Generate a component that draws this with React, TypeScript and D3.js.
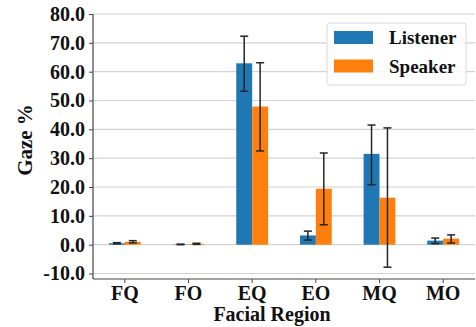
import { useEffect, useRef } from 'react';
import * as d3 from 'd3';

const regions = ['FQ', 'FO', 'EQ', 'EO', 'MQ', 'MO'];
const seriesNames = ['Listener', 'Speaker'];
const listenerVals = [0.5, 0.1, 62.9, 3.2, 31.5, 1.4];
const listenerLo = [0.3, 0.0, 53.2, 1.6, 20.8, 0.4];
const listenerHi = [0.7, 0.2, 72.3, 4.7, 41.5, 2.3];
const speakerVals = [1.0, 0.3, 47.9, 19.4, 16.3, 2.1];
const speakerLo = [0.6, 0.1, 32.5, 6.9, -7.8, 0.6];
const speakerHi = [1.4, 0.5, 63.1, 31.8, 40.5, 3.4];
const yTicks = [-10, 0, 10, 20, 30, 40, 50, 60, 70, 80];

const colors = ['#1f77b4', '#ff7f0e'];
const font = '"Liberation Serif", "Times New Roman", serif';

export default function App() {
    const ref = useRef<SVGSVGElement>(null);

    useEffect(() => {
        const svg = d3.select(ref.current);
        svg.selectAll('*').remove();

        const [ml, mt, mr, mb] = [93, 14, 1, 48];
        const width = 476;
        const height = 327;
        const graphWidth = width - ml - mr;
        const graphHeight = height - mt - mb;

        const g = svg.append('g').attr('transform', `translate(${ml}, ${mt})`);

        const xScale = d3.scaleBand().domain(regions).range([0, graphWidth]).paddingInner(0).paddingOuter(0);
        const yScale = d3.scaleLinear().domain([-11.9, 80]).range([graphHeight, 0]);
        const barW = xScale.bandwidth() * 0.25;

        // grid
        g.selectAll('line.grid')
            .data(yTicks)
            .join('line')
            .attr('x1', 0)
            .attr('x2', graphWidth)
            .attr('y1', (d) => yScale(d))
            .attr('y2', (d) => yScale(d))
            .attr('stroke', '#d2d2d2')
            .attr('stroke-width', 1.2);

        const series = [
            { vals: listenerVals, lo: listenerLo, hi: listenerHi },
            { vals: speakerVals, lo: speakerLo, hi: speakerHi }
        ];
        const cx = (si: number, i: number) =>
            (xScale(regions[i]) as number) + xScale.bandwidth() / 2 + (si === 0 ? -barW / 2 : barW / 2);

        series.forEach((s, si) => {
            g.selectAll(`rect.s${si}`)
                .data(s.vals)
                .join('rect')
                .attr('x', (_d, i) => cx(si, i) - barW / 2)
                .attr('width', barW)
                .attr('y', (d) => yScale(Math.max(0, d)))
                .attr('height', (d) => Math.abs(yScale(d) - yScale(0)))
                .attr('fill', colors[si]);
        });

        // error bars
        series.forEach((s, si) => {
            const eg = g.append('g').attr('stroke', '#262626').attr('stroke-width', 1.5);
            s.vals.forEach((_v, i) => {
                const x = cx(si, i);
                eg.append('line').attr('x1', x).attr('x2', x).attr('y1', yScale(s.lo[i])).attr('y2', yScale(s.hi[i]));
                [s.lo[i], s.hi[i]].forEach((e) => {
                    eg.append('line')
                        .attr('x1', x - 4)
                        .attr('x2', x + 4)
                        .attr('y1', yScale(e))
                        .attr('y2', yScale(e));
                });
            });
        });

        // axes
        const yAxis = d3
            .axisLeft(yScale)
            .tickValues(yTicks)
            .tickSize(4)
            .tickPadding(4)
            .tickFormat((d) => (d as number).toFixed(1));
        g.append('g')
            .call(yAxis)
            .call((a) => a.select('.domain').remove())
            .call((a) => a.selectAll('.tick line').attr('stroke', '#444'))
            .call((a) =>
                a
                    .selectAll('.tick text')
                    .attr('font-family', font)
                    .attr('font-weight', 'bold')
                    .attr('font-size', 20)
                    .attr('fill', '#111')
            );

        const xAxis = d3.axisBottom(xScale).tickSize(4).tickPadding(3);
        g.append('g')
            .attr('transform', `translate(0, ${graphHeight})`)
            .call(xAxis)
            .call((a) => a.select('.domain').remove())
            .call((a) => a.selectAll('.tick line').attr('stroke', '#444'))
            .call((a) =>
                a
                    .selectAll('.tick text')
                    .attr('font-family', font)
                    .attr('font-weight', 'bold')
                    .attr('font-size', 20)
                    .attr('fill', '#111')
            );

        // spines
        g.append('line').attr('x1', 0).attr('x2', 0).attr('y1', 0).attr('y2', graphHeight).attr('stroke', '#444').attr('stroke-width', 1.2);
        g.append('line').attr('x1', 0).attr('x2', graphWidth).attr('y1', graphHeight).attr('y2', graphHeight).attr('stroke', '#444').attr('stroke-width', 1.2);

        // axis titles
        svg.append('text')
            .attr('x', ml + graphWidth / 2 - 12)
            .attr('y', 321)
            .attr('text-anchor', 'middle')
            .attr('font-family', font)
            .attr('font-weight', 'bold')
            .attr('font-size', 20)
            .attr('fill', '#111')
            .text('Facial Region');
        svg.append('text')
            .attr('transform', 'translate(32, 140) rotate(-90)')
            .attr('text-anchor', 'middle')
            .attr('font-family', font)
            .attr('font-weight', 'bold')
            .attr('font-size', 21)
            .attr('fill', '#111')
            .text('Gaze %');

        // legend
        const lg = svg.append('g').attr('transform', 'translate(327, 23)');
        lg.append('rect')
            .attr('width', 139)
            .attr('height', 62)
            .attr('rx', 3)
            .attr('fill', 'white')
            .attr('fill-opacity', 0.85)
            .attr('stroke', '#d8d8d8');
        seriesNames.forEach((name, i) => {
            lg.append('rect')
                .attr('x', 7)
                .attr('y', 8 + i * 28.5)
                .attr('width', 39)
                .attr('height', 13)
                .attr('fill', colors[i]);
            lg.append('text')
                .attr('x', 62)
                .attr('y', 21 + i * 28.5)
                .attr('font-family', font)
                .attr('font-weight', 'bold')
                .attr('font-size', 19)
                .attr('fill', '#111')
                .text(name);
        });
    }, []);

    return (
        <svg
            ref={ref}
            width={476}
            height={327}
            style={{ position: 'absolute', left: 0, top: 0, background: '#fff' }}
        />
    );
}
